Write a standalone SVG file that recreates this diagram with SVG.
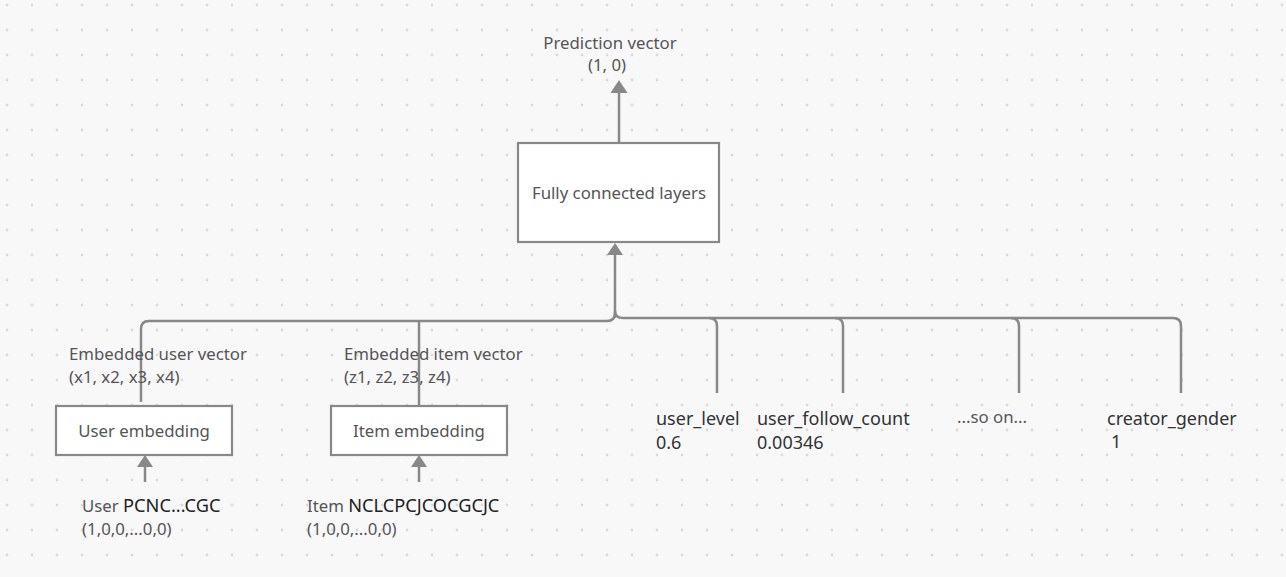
<svg xmlns="http://www.w3.org/2000/svg" width="1286" height="577" viewBox="0 0 1286 577">
<defs>
<pattern id="dots" width="25" height="25" patternUnits="userSpaceOnUse"><circle cx="7" cy="5" r="1.4" fill="#dadada"/></pattern>
</defs>
<style>
.bg{fill:#f8f8f9}
.box{fill:#fff;stroke:#888;stroke-width:2.2}
.ln{fill:none;stroke:#888;stroke-width:2.5}
.ah{fill:#888}
.lb{font-family:"Noto Sans","Open Sans",sans-serif;font-size:16.8px;fill:#555}
.lbc{font-family:"Noto Sans","Open Sans",sans-serif;font-size:16.8px;fill:#555;text-anchor:middle}
.ft{font-family:"Noto Sans","Open Sans",sans-serif;font-size:18px;fill:#333}
.dk{fill:#222;font-size:18.2px}
</style>
<rect class="bg" width="1286" height="577"/>
<rect width="1286" height="577" fill="url(#dots)"/>

<g id="connectors">
<path class="ln" d="M619,143 V92"/>
<polygon class="ah" points="619,80 627.5,93 610.5,93"/>
<path class="ln" d="M615,318 V254"/>
<polygon class="ah" points="615,243 623,255 607,255"/>
<path class="ln" d="M141,402 V329 Q141,321 149,321 H607 Q615,321 615,313"/>
<path class="ln" d="M419,406 V321"/>
<path class="ln" d="M615,311 Q615,318 623,318 H1173 Q1181,318 1181,326 V393"/>
<path class="ln" d="M709,318 Q717,318 717,326 V393"/>
<path class="ln" d="M835,318 Q843,318 843,326 V393"/>
<path class="ln" d="M1011,318 Q1019,318 1019,326 V393"/>
<path class="ln" d="M145,482 V466"/>
<polygon class="ah" points="145,455 153,467 137,467"/>
<path class="ln" d="M419,482 V466"/>
<polygon class="ah" points="419,455 427,467 411,467"/>
</g>

<g id="prediction">
<text class="lbc" x="610" y="49">Prediction vector</text>
<text class="lbc" x="607" y="71">(1, 0)</text>
</g>

<g id="fc">
<rect class="box" x="518" y="143" width="201" height="99"/>
<text class="lbc" x="619" y="199">Fully connected layers</text>
</g>

<g id="user-embedding">
<rect class="box" x="56" y="406" width="176" height="49"/>
<text class="lbc" x="144" y="437">User embedding</text>
<text class="lb" x="69" y="360">Embedded user vector</text>
<text class="lb" x="69" y="383">(x1, x2, x3, x4)</text>
</g>

<g id="item-embedding">
<rect class="box" x="331" y="406" width="176" height="49"/>
<text class="lbc" x="419" y="437">Item embedding</text>
<text class="lb" x="344" y="360">Embedded item vector</text>
<text class="lb" x="344" y="383">(z1, z2, z3, z4)</text>
</g>

<g id="user-input">
<text class="lb" x="82" y="512">User <tspan class="dk">PCNC...CGC</tspan></text>
<text class="lb" x="82" y="535">(1,0,0,...0,0)</text>
</g>

<g id="item-input">
<text class="lb" x="307" y="512">Item <tspan class="dk">NCLCPCJCOCGCJC</tspan></text>
<text class="lb" x="307" y="535">(1,0,0,...0,0)</text>
</g>

<g id="user-level">
<text class="ft" x="656" y="425">user_level</text>
<text class="ft" x="656" y="449">0.6</text>
</g>
<g id="user-follow-count">
<text class="ft" x="757" y="425">user_follow_count</text>
<text class="ft" x="757" y="449">0.00346</text>
</g>
<g id="so-on">
<text class="lb" x="957" y="423">...so on...</text>
</g>
<g id="creator-gender">
<text class="ft" x="1107" y="425">creator_gender</text>
<text class="ft" x="1111" y="448">1</text>
</g>
</svg>
